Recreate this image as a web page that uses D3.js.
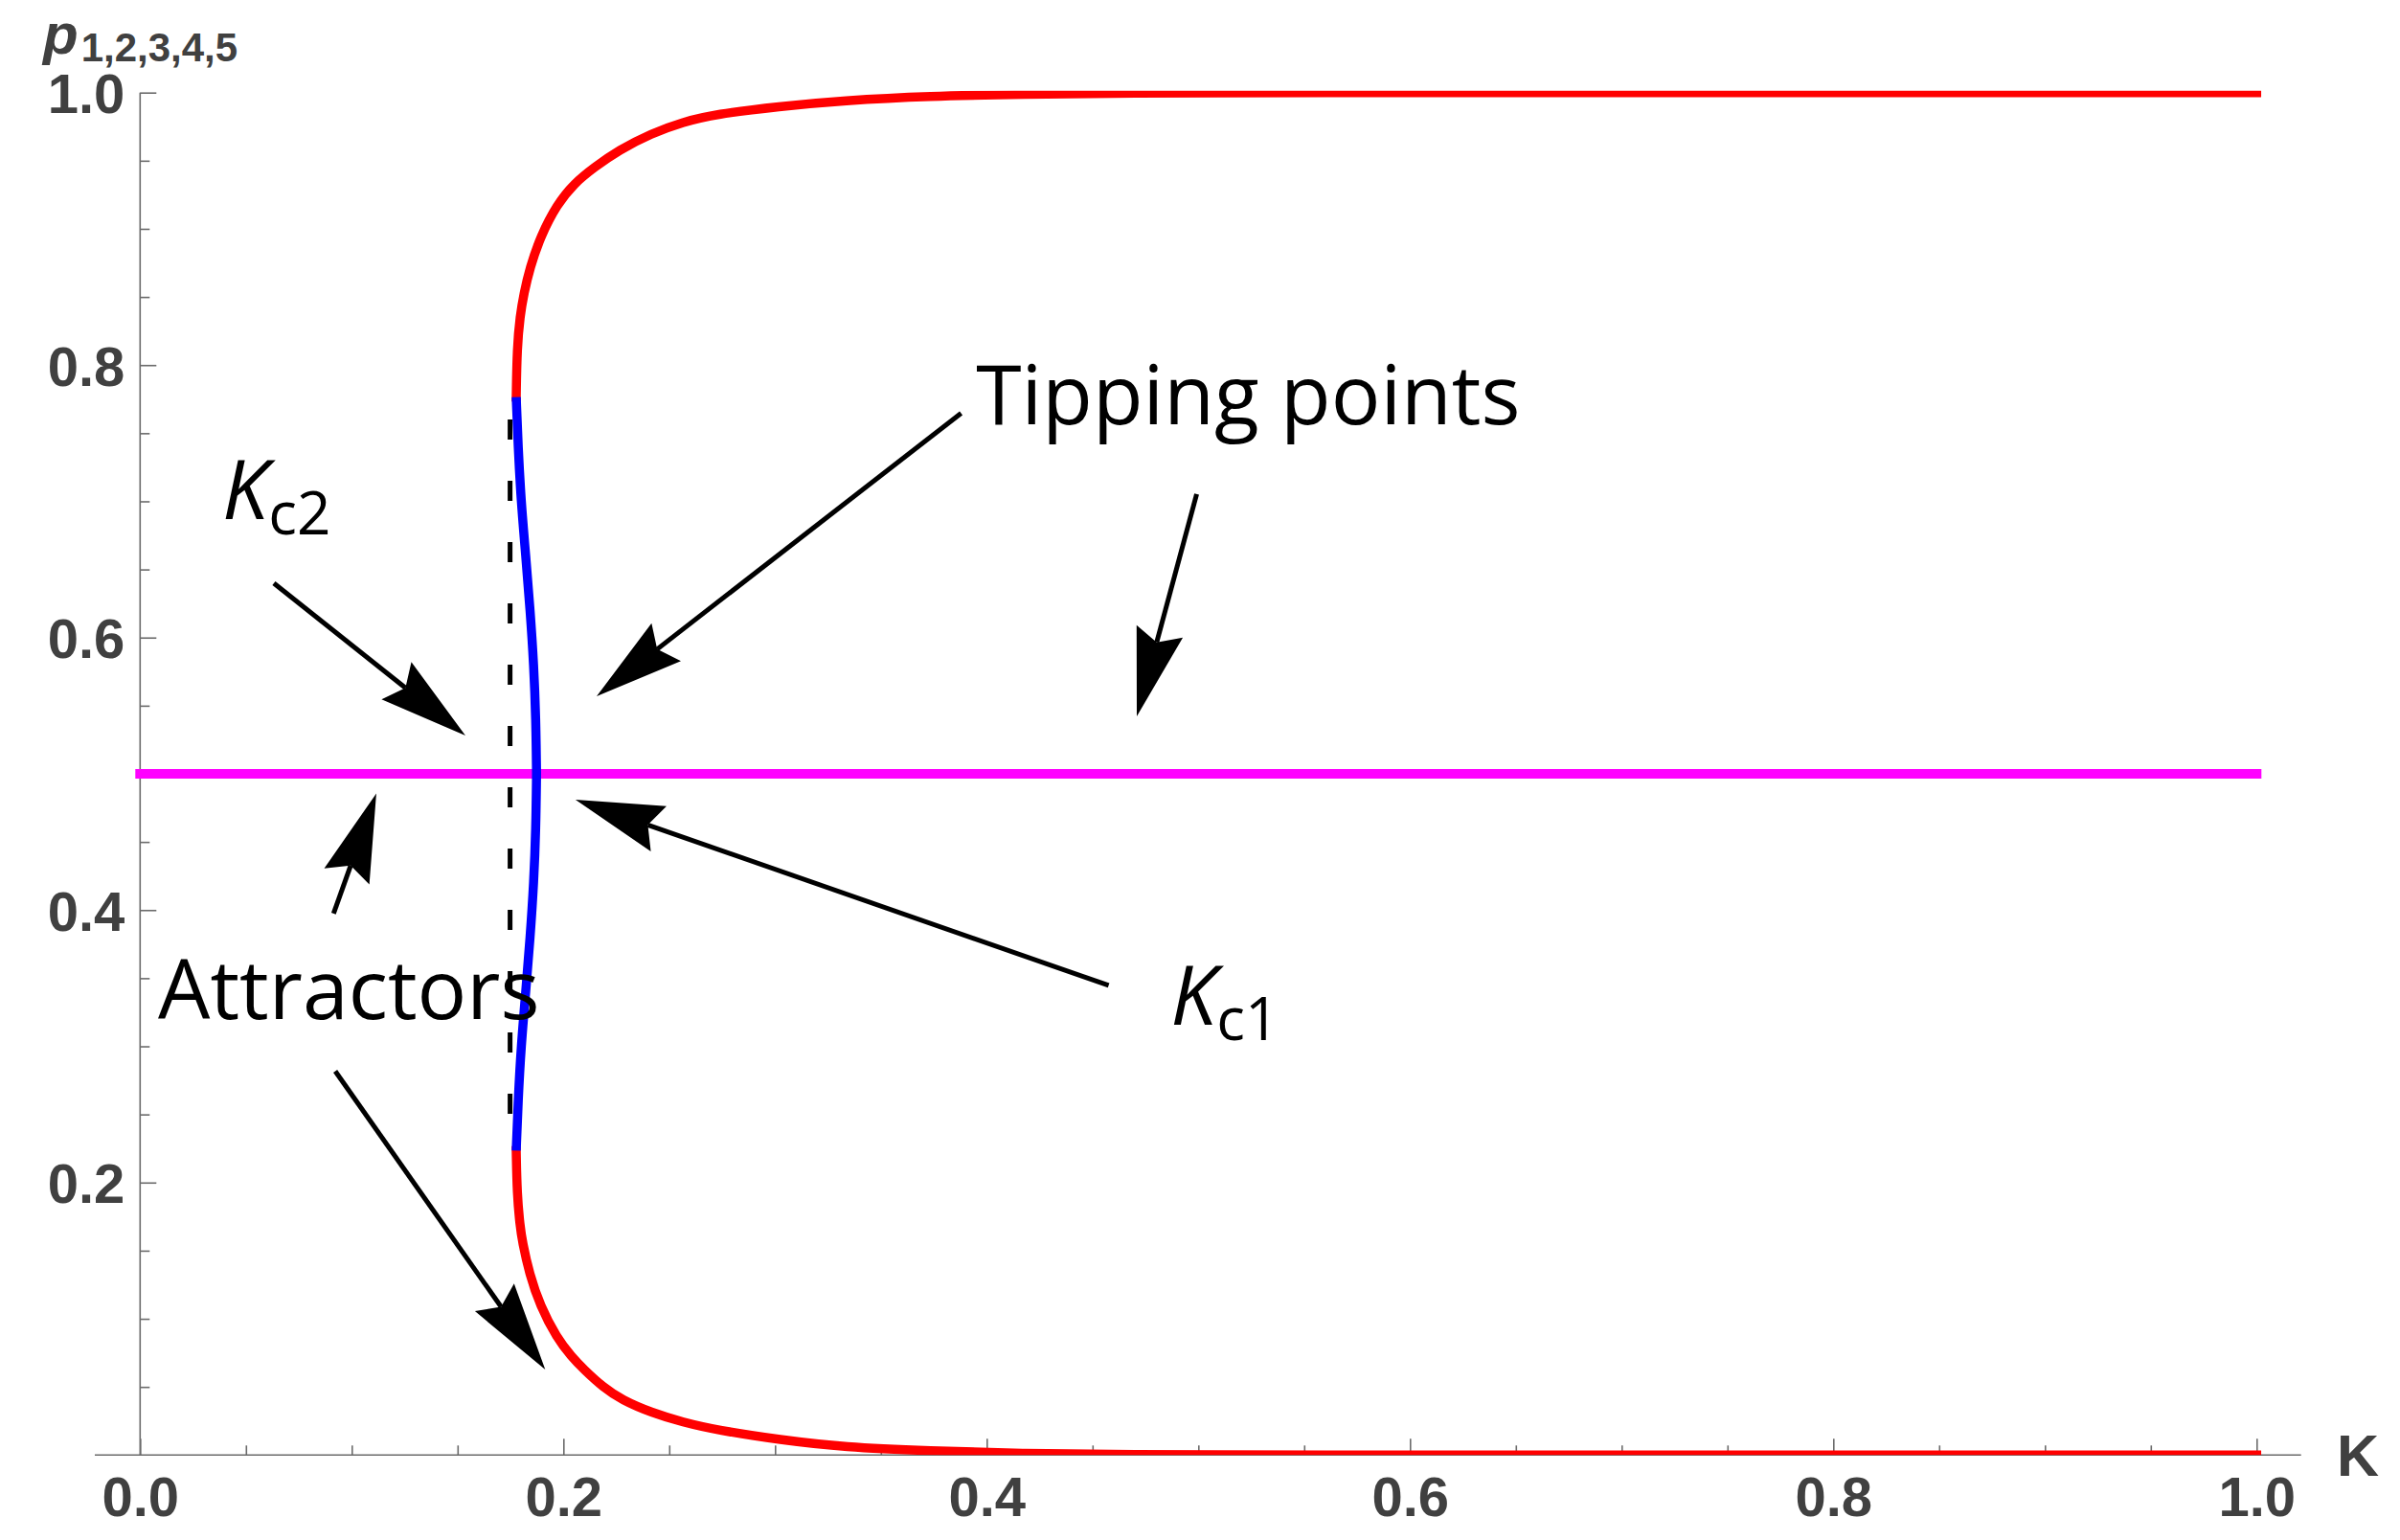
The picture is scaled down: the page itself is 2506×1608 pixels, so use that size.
<!DOCTYPE html>
<html>
<head>
<meta charset="utf-8">
<script src="https://cdn.jsdelivr.net/npm/d3@7"></script>
<style>
  body { margin: 0; background: #fff; }
</style>
</head>
<body>
<svg id="chart"></svg>
<script>
// upper stable branch (red)
const upperK = [0.1777, 0.1781, 0.1795, 0.1813, 0.1841, 0.1892, 0.1970, 0.2050, 0.2143, 0.2262, 0.2415, 0.2566, 0.2717, 0.3018, 0.3320, 0.3727, 0.4180, 0.4632, 0.55, 0.70, 1.0];
const upperP = [0.7765, 0.8126, 0.8360, 0.8524, 0.8711, 0.8946, 0.9180, 0.9332, 0.9449, 0.9578, 0.9700, 0.9785, 0.9841, 0.9899, 0.9942, 0.9975, 0.9987, 0.9997, 1.0, 1.0, 1.0];

// lower stable branch (red)
const lowerK = [0.1777, 0.1781, 0.1795, 0.1806, 0.1839, 0.1890, 0.1968, 0.2039, 0.2097, 0.2187, 0.2276, 0.2417, 0.2564, 0.2726, 0.3024, 0.3326, 0.3727, 0.4180, 0.4632, 0.55, 0.70, 1.0];
const lowerP = [0.2235, 0.1916, 0.1682, 0.1565, 0.1331, 0.1097, 0.0862, 0.0721, 0.0628, 0.0499, 0.0405, 0.0311, 0.0241, 0.0183, 0.0112, 0.0058, 0.0031, 0.0010, 0.0003, 0.0, 0.0, 0.0];

// unstable branch (blue), top half and bottom half
const unstableTopK = [0.1777, 0.1786, 0.1800, 0.1822, 0.1843, 0.1860, 0.1870, 0.1873];
const unstableTopP = [0.7765, 0.74, 0.70, 0.66, 0.62, 0.58, 0.54, 0.50];
const unstableBotK = [0.1873, 0.1870, 0.1860, 0.1843, 0.1822, 0.1800, 0.1786, 0.1777];
const unstableBotP = [0.50, 0.46, 0.42, 0.38, 0.34, 0.30, 0.26, 0.2235];

// symmetric state p = 1/2 (magenta)
const symK = [0.0, 1.0];
const symP = [0.5, 0.5];

// Kc2 dashed marker
const kc2 = 0.1748;
const kc2Range = [0.760, 0.250];

// tick labels
const xTicks = [0.0, 0.2, 0.4, 0.6, 0.8, 1.0];
const yTicks = [0.2, 0.4, 0.6, 0.8, 1.0];
const minorStep = 0.05;

// annotation arrows: [tailK, tailP, tipK, tipP]
const arrows = [
  [0.3879, 0.7647, 0.2157, 0.5570],
  [0.4992, 0.7053, 0.4709, 0.5422],
  [0.0632, 0.6399, 0.1537, 0.5281],
  [0.0914, 0.3974, 0.1116, 0.4856],
  [0.0922, 0.2817, 0.1914, 0.0628],
  [0.4576, 0.3447, 0.2057, 0.4810]
];

// annotation labels: [K, p, main, subscript]
const labels = [
  [0.3950, 0.7566, "Tipping points", ""],
  [0.0085, 0.3201, "Attractors", ""],
  [0.0388, 0.6870, "K", "c2"],
  [0.4868, 0.3158, "K", "c1"]
];

const width = 2506, height = 1608;

const svg = d3.select("#chart")
  .attr("width", width)
  .attr("height", height);

svg.append("rect")
  .attr("width", width)
  .attr("height", height)
  .attr("fill", "#fff");

const x = d3.scaleLinear().domain([0, 1]).range([146.3, 2356.3]);
const y = d3.scaleLinear().domain([0, 1]).range([1519.3, 96.7]);

const axisColor = "#6b6b6b";
const labelColor = "#404040";

// clip the curves to the plot range
svg.append("defs").append("clipPath")
  .attr("id", "plot-clip")
  .append("rect")
  .attr("x", x(0) - 12)
  .attr("y", y(1) - 2)
  .attr("width", x(1) - x(0) + 20)
  .attr("height", y(0) - y(1) + 2);

// ---- axes ----
const axes = svg.append("g").attr("class", "axes");

axes.append("line")
  .attr("x1", x(-0.0214)).attr("x2", x(1.021))
  .attr("y1", y(0)).attr("y2", y(0))
  .attr("stroke", axisColor).attr("stroke-width", 1.6);

axes.append("line")
  .attr("x1", x(0)).attr("x2", x(0))
  .attr("y1", y(0)).attr("y2", y(1))
  .attr("stroke", axisColor).attr("stroke-width", 1.6);

const minorVals = d3.range(0, 1.0001, minorStep)
  .filter(v => Math.abs(v * 5 - Math.round(v * 5)) > 1e-6);

// x major ticks + labels
const xAxis = axes.append("g")
  .attr("transform", `translate(0,${y(0)})`)
  .call(d3.axisBottom(x).tickValues(xTicks).tickSize(-17).tickPadding(23).tickFormat(d3.format(".1f")));
xAxis.select(".domain").remove();

// x minor ticks
const xMinor = axes.append("g")
  .attr("transform", `translate(0,${y(0)})`)
  .call(d3.axisBottom(x).tickValues(minorVals).tickSize(-10).tickFormat(""));
xMinor.select(".domain").remove();

// y major ticks + labels
const yAxis = axes.append("g")
  .attr("transform", `translate(${x(0)},0)`)
  .call(d3.axisLeft(y).tickValues(yTicks).tickSize(-17).tickPadding(16).tickFormat(d3.format(".1f")));
yAxis.select(".domain").remove();

// y minor ticks
const yMinor = axes.append("g")
  .attr("transform", `translate(${x(0)},0)`)
  .call(d3.axisLeft(y).tickValues(minorVals).tickSize(-10).tickFormat(""));
yMinor.select(".domain").remove();

axes.selectAll(".tick line")
  .attr("stroke", axisColor)
  .attr("stroke-width", 1.6);

axes.selectAll(".tick text")
  .attr("fill", labelColor)
  .style("font-family", "'Liberation Sans', Arial, sans-serif")
  .style("font-weight", "bold")
  .style("font-size", "58px");

yAxis.selectAll(".tick text").attr("dy", "0.36em");

// axis titles
axes.append("text")
  .attr("x", 2440)
  .attr("y", y(0) + 22)
  .attr("fill", labelColor)
  .style("font-family", "'Liberation Sans', Arial, sans-serif")
  .style("font-weight", "bold")
  .style("font-size", "61px")
  .text("K");

const yTitle = axes.append("text")
  .attr("x", 45)
  .attr("y", 56)
  .attr("fill", labelColor)
  .style("font-family", "'Liberation Sans', Arial, sans-serif")
  .style("font-weight", "bold");
yTitle.append("tspan")
  .style("font-style", "italic")
  .style("font-size", "60px")
  .text("p");
yTitle.append("tspan")
  .attr("dx", 3)
  .attr("dy", 8)
  .style("font-size", "42px")
  .text("1,2,3,4,5");

// ---- curves ----
const line = d3.line()
  .x(d => x(d[0]))
  .y(d => y(d[1]))
  .curve(d3.curveBasis);

const plot = svg.append("g").attr("clip-path", "url(#plot-clip)");

// p = 1/2 state
plot.append("path")
  .attr("d", line(d3.zip(symK, symP)))
  .attr("fill", "none")
  .attr("stroke", "#ff00ff")
  .attr("stroke-width", 10)
  .attr("stroke-linecap", "square");

// dashed Kc2 marker
plot.append("line")
  .attr("x1", x(kc2)).attr("x2", x(kc2))
  .attr("y1", y(kc2Range[0])).attr("y2", y(kc2Range[1]))
  .attr("stroke", "#000")
  .attr("stroke-width", 5)
  .attr("stroke-dasharray", "21,43");

// stable branches
[d3.zip(upperK, upperP), d3.zip(lowerK, lowerP)].forEach(pts => {
  plot.append("path")
    .attr("d", line(pts))
    .attr("fill", "none")
    .attr("stroke", "#ff0000")
    .attr("stroke-width", 9.5)
    .attr("stroke-linecap", "square");
});

// unstable branch
[d3.zip(unstableTopK, unstableTopP), d3.zip(unstableBotK, unstableBotP)].forEach(pts => {
  plot.append("path")
    .attr("d", line(pts))
    .attr("fill", "none")
    .attr("stroke", "#0000ff")
    .attr("stroke-width", 9.5)
    .attr("stroke-linecap", "butt");
});

// ---- arrows ----
const headLen = 92, headHalf = 25, notch = 12;
const arrowG = svg.append("g").attr("class", "arrows");

arrows.forEach(a => {
  const x1 = x(a[0]), y1 = y(a[1]), x2 = x(a[2]), y2 = y(a[3]);
  const len = Math.hypot(x2 - x1, y2 - y1);
  const ux = (x2 - x1) / len, uy = (y2 - y1) / len;
  const nx = -uy, ny = ux;
  const bx = x2 - ux * headLen, by = y2 - uy * headLen;
  const mx = x2 - ux * (headLen - notch), my = y2 - uy * (headLen - notch);

  arrowG.append("line")
    .attr("x1", x1).attr("y1", y1)
    .attr("x2", mx).attr("y2", my)
    .attr("stroke", "#000")
    .attr("stroke-width", 5);

  arrowG.append("path")
    .attr("d", `M${x2},${y2}L${bx + nx * headHalf},${by + ny * headHalf}L${mx},${my}L${bx - nx * headHalf},${by - ny * headHalf}Z`)
    .attr("fill", "#000");
});

// ---- annotation text ----
const textG = svg.append("g").attr("class", "annotations");

labels.forEach(l => {
  const t = textG.append("text")
    .attr("x", x(l[0]))
    .attr("y", y(l[1]))
    .attr("fill", "#000")
    .style("font-family", "'Open Sans', 'Noto Sans', sans-serif")
    .style("font-size", "86px");
  if (l[3]) {
    t.append("tspan").style("font-style", "italic").text(l[2]);
    t.append("tspan")
      .attr("dx", 0)
      .attr("dy", 16)
      .style("font-size", "62px")
      .text(l[3]);
  } else {
    t.text(l[2]);
  }
});
</script>
</body>
</html>
